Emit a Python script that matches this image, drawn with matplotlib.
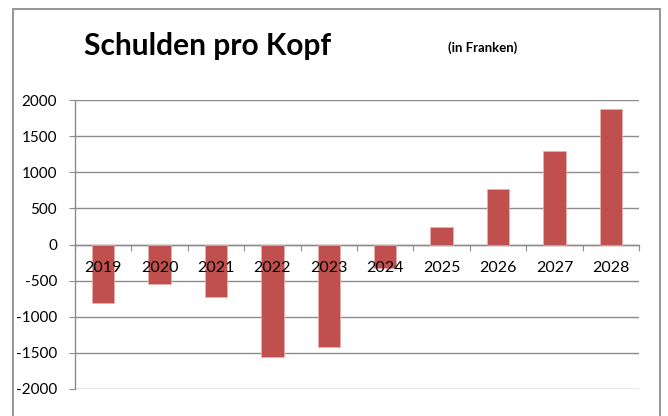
import matplotlib
matplotlib.use("Agg")
import matplotlib.pyplot as plt
from matplotlib.patches import Rectangle
import numpy as np

years = ["2019", "2020", "2021", "2022", "2023", "2024", "2025", "2026", "2027", "2028"]
values = [-815, -540, -725, -1555, -1425, -320, 240, 765, 1290, 1875]
yticks = [-2000, -1500, -1000, -500, 0, 500, 1000, 1500, 2000]

plt.rcParams['font.family'] = ['Lato', 'DejaVu Sans']

fig = plt.figure(figsize=(6.68, 4.16), dpi=100)
fig.patch.set_facecolor('white')

# outer chart frame
frame = Rectangle((13/668, -0.2), (660-13)/668, 1.2 - 9/416,
                  transform=fig.transFigure, fill=False,
                  edgecolor='#8c8c8c', linewidth=1.3, zorder=0)
fig.patches.append(frame)

ax = fig.add_axes([75/668, 1-389/416, (639-75)/668, (389-100)/416])
ax.set_axisbelow(True)
x = np.arange(len(years))
ax.bar(x, values, width=0.4, color='#C0504D', edgecolor='#e8b0ae', linewidth=0.5, zorder=3)

ax.set_xlim(-0.5, len(years)-0.5)
ax.set_ylim(-2000, 2000)
ax.set_yticks(yticks)
ax.set_yticklabels([str(v) for v in yticks], fontsize=11)
ax.grid(axis='y', color='#8c8c8c', linewidth=1.0)

for s in ['top', 'right']:
    ax.spines[s].set_visible(False)
ax.spines['left'].set_color('#8c8c8c')
ax.spines['bottom'].set_color('#8c8c8c')
ax.spines['bottom'].set_position(('data', 0))
ax.spines['left'].set_linewidth(1.0)
ax.spines['bottom'].set_linewidth(1.0)

ax.set_xticks(np.arange(-0.5, len(years)))
ax.set_xticklabels([])
ax.tick_params(axis='x', length=4, color='#8c8c8c', direction='out')
ax.tick_params(axis='y', length=4, color='#8c8c8c', pad=9)

# category labels drawn above the bars
for xi, yr in zip(x, years):
    ax.annotate(yr, xy=(xi, 0), xytext=(0, -17), textcoords='offset points',
                ha='center', va='center', fontsize=11.5, zorder=6)

fig.text(84/668, 1-46/416, "Schulden pro Kopf", fontsize=21.5, fontweight='bold',
         ha='left', va='center')
fig.text(483/668, 1-48/416, "(in Franken)", fontsize=9.5, fontweight='bold',
         ha='center', va='center')

fig.savefig("out.png", dpi=100)
